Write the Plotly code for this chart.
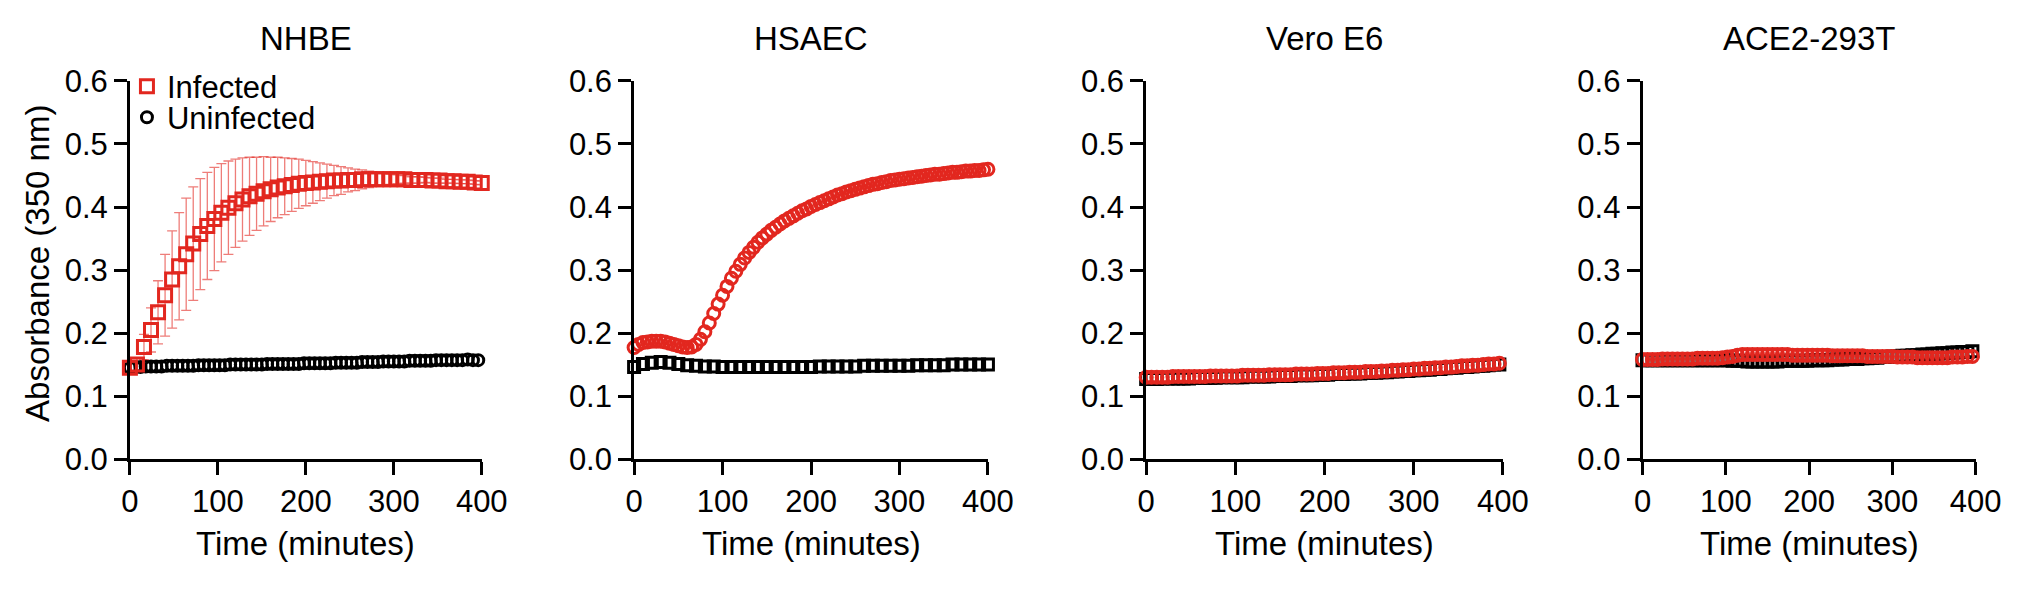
import plotly.graph_objects as go

# time grids (minutes) for each read series
t_nhbe_inf = list(range(0, 401, 8))
t_nhbe_un = list(range(0, 397, 6))
t_hsaec_inf = list(range(0, 401, 5))
t_hsaec_un = list(range(0, 401, 10))
t_vero = list(range(0, 397, 6))
t_ace2 = list(range(0, 397, 6))

panel_titles = ["NHBE", "HSAEC", "Vero E6", "ACE2-293T"]

nhbe_inf = [0.145, 0.150, 0.178, 0.205, 0.233, 0.260, 0.285, 0.306, 0.325, 0.342,
            0.357, 0.370, 0.381, 0.391, 0.399, 0.406, 0.412, 0.417, 0.421, 0.425,
            0.428, 0.431, 0.433, 0.435, 0.437, 0.438, 0.439, 0.440, 0.441, 0.442,
            0.442, 0.443, 0.443, 0.444, 0.444, 0.444, 0.444, 0.444, 0.444, 0.444,
            0.443, 0.443, 0.443, 0.442, 0.442, 0.441, 0.441, 0.440, 0.440, 0.439,
            0.438]
nhbe_inf_sd = [0.008, 0.010, 0.020, 0.035, 0.050, 0.065, 0.077, 0.085, 0.089, 0.090,
               0.088, 0.085, 0.082, 0.078, 0.074, 0.070, 0.066, 0.062, 0.058, 0.055,
               0.051, 0.048, 0.045, 0.042, 0.039, 0.036, 0.033, 0.030, 0.027, 0.024,
               0.022, 0.019, 0.017, 0.015, 0.013, 0.011, 0.010, 0.008, 0.007, 0.006,
               0.005, 0.005, 0.004, 0.004, 0.004, 0.003, 0.003, 0.003, 0.003, 0.003,
               0.003]
nhbe_un = [0.145, 0.146, 0.146, 0.147, 0.147, 0.147, 0.147, 0.148, 0.148, 0.148,
           0.148, 0.148, 0.148, 0.149, 0.149, 0.149, 0.149, 0.149, 0.149, 0.150,
           0.150, 0.150, 0.150, 0.150, 0.150, 0.150, 0.151, 0.151, 0.151, 0.151,
           0.151, 0.151, 0.151, 0.152, 0.152, 0.152, 0.152, 0.152, 0.152, 0.153,
           0.153, 0.153, 0.153, 0.153, 0.154, 0.154, 0.154, 0.154, 0.155, 0.155,
           0.155, 0.155, 0.155, 0.156, 0.156, 0.156, 0.156, 0.156, 0.157, 0.157,
           0.157, 0.157, 0.157, 0.157, 0.158, 0.157, 0.157]

hsaec_inf = [0.177, 0.182, 0.185, 0.186, 0.187, 0.187, 0.187, 0.186, 0.184, 0.182,
             0.180, 0.178, 0.177, 0.178, 0.182, 0.190, 0.202, 0.216, 0.231, 0.246,
             0.260, 0.274, 0.287, 0.298, 0.309, 0.319, 0.328, 0.336, 0.344, 0.351,
             0.357, 0.363, 0.368, 0.373, 0.378, 0.382, 0.386, 0.390, 0.394, 0.397,
             0.401, 0.404, 0.407, 0.410, 0.413, 0.416, 0.419, 0.421, 0.424, 0.426,
             0.428, 0.430, 0.432, 0.434, 0.436, 0.437, 0.439, 0.440, 0.442, 0.443,
             0.444, 0.445, 0.446, 0.447, 0.448, 0.449, 0.450, 0.451, 0.452, 0.452,
             0.453, 0.454, 0.455, 0.455, 0.456, 0.457, 0.457, 0.458, 0.458, 0.459,
             0.460]
hsaec_un = [0.146, 0.151, 0.153, 0.154, 0.153, 0.151, 0.149, 0.148, 0.147, 0.147,
            0.146, 0.146, 0.146, 0.146, 0.146, 0.146, 0.146, 0.146, 0.146, 0.146,
            0.146, 0.147, 0.147, 0.147, 0.147, 0.147, 0.148, 0.148, 0.148, 0.148,
            0.148, 0.148, 0.149, 0.149, 0.149, 0.149, 0.150, 0.150, 0.150, 0.150,
            0.150]

vero_inf = [0.130, 0.130, 0.130, 0.130, 0.130, 0.131, 0.131, 0.131, 0.131, 0.131,
            0.131, 0.131, 0.132, 0.132, 0.132, 0.132, 0.132, 0.132, 0.133, 0.133,
            0.133, 0.133, 0.133, 0.134, 0.134, 0.134, 0.134, 0.134, 0.135, 0.135,
            0.135, 0.135, 0.136, 0.136, 0.136, 0.137, 0.137, 0.137, 0.138, 0.138,
            0.138, 0.139, 0.139, 0.139, 0.140, 0.140, 0.141, 0.141, 0.142, 0.142,
            0.143, 0.143, 0.144, 0.144, 0.145, 0.145, 0.146, 0.146, 0.147, 0.148,
            0.148, 0.149, 0.149, 0.150, 0.151, 0.151, 0.152]
vero_un = [0.127, 0.127, 0.127, 0.128, 0.128, 0.128, 0.128, 0.128, 0.128, 0.129,
           0.129, 0.129, 0.129, 0.129, 0.130, 0.130, 0.130, 0.130, 0.130, 0.131,
           0.131, 0.131, 0.131, 0.131, 0.132, 0.132, 0.132, 0.132, 0.133, 0.133,
           0.133, 0.133, 0.134, 0.134, 0.134, 0.135, 0.135, 0.135, 0.136, 0.136,
           0.136, 0.137, 0.137, 0.137, 0.138, 0.138, 0.139, 0.139, 0.140, 0.140,
           0.141, 0.141, 0.142, 0.142, 0.143, 0.143, 0.144, 0.145, 0.145, 0.146,
           0.146, 0.147, 0.148, 0.148, 0.149, 0.150, 0.150]

ace2_inf = [0.158, 0.158, 0.158, 0.158, 0.159, 0.159, 0.159, 0.159, 0.159, 0.159,
            0.159, 0.160, 0.160, 0.160, 0.160, 0.160, 0.161, 0.162, 0.163, 0.165,
            0.166, 0.166, 0.166, 0.166, 0.166, 0.166, 0.166, 0.166, 0.166, 0.166,
            0.165, 0.165, 0.165, 0.165, 0.165, 0.165, 0.165, 0.165, 0.164, 0.164,
            0.164, 0.164, 0.164, 0.164, 0.164, 0.163, 0.163, 0.163, 0.163, 0.163,
            0.163, 0.162, 0.162, 0.162, 0.162, 0.161, 0.161, 0.161, 0.161, 0.161,
            0.161, 0.161, 0.162, 0.162, 0.162, 0.163, 0.163]
ace2_un = [0.157, 0.157, 0.157, 0.157, 0.157, 0.157, 0.157, 0.157, 0.157, 0.157,
           0.157, 0.157, 0.157, 0.157, 0.157, 0.157, 0.157, 0.157, 0.156, 0.156,
           0.156, 0.155, 0.155, 0.155, 0.155, 0.155, 0.155, 0.155, 0.156, 0.156,
           0.156, 0.156, 0.156, 0.156, 0.157, 0.157, 0.157, 0.157, 0.158, 0.158,
           0.158, 0.159, 0.159, 0.159, 0.160, 0.160, 0.161, 0.161, 0.162, 0.162,
           0.163, 0.163, 0.164, 0.164, 0.165, 0.165, 0.166, 0.166, 0.167, 0.167,
           0.168, 0.168, 0.169, 0.169, 0.170, 0.170, 0.171]

RED = "#E2271F"
RED_BAR = "rgba(226,39,31,0.6)"
FONT = "Liberation Sans, Arial, sans-serif"
W, H = 2042, 590

# panel pixel edges (left, right) and plot top/bottom
panel_px = [(123, 481), (636, 996), (1157, 1520), (1662, 2001)]
top_px, bot_px = 68, 470

fig = go.Figure()


def add(x, y, ax, symbol, color, size, name=None, legend=None, err=None):
    tr = go.Scatter(
        x=x, y=y, mode="markers", cliponaxis=False,
        xaxis="x" if ax == 1 else "x%d" % ax,
        yaxis="y" if ax == 1 else "y%d" % ax,
        marker=dict(symbol=symbol, size=size, color=color,
                    line=dict(color=color, width=3)),
        showlegend=name is not None, name=name,
    )
    if legend:
        tr.legend = legend
    if err is not None:
        tr.error_y = dict(type="data", array=err, color=RED_BAR,
                          thickness=1.3, width=5)
    fig.add_trace(tr)


# NHBE
add(t_nhbe_un, nhbe_un, 1, "circle-open", "black", 11, "Uninfected", "legend2")
add(t_nhbe_inf, nhbe_inf, 1, "square-open", RED, 13, "Infected", "legend", nhbe_inf_sd)
# HSAEC
add(t_hsaec_un, hsaec_un, 2, "square-open", "black", 11)
add(t_hsaec_inf, hsaec_inf, 2, "circle-open", RED, 12)
# Vero E6
add(t_vero, vero_un, 3, "square-open", "black", 11)
add(t_vero, vero_inf, 3, "circle-open", RED, 12)
# ACE2-293T
add(t_ace2, ace2_un, 4, "square-open", "black", 11)
add(t_ace2, ace2_inf, 4, "circle-open", RED, 12)

tickfont = dict(family=FONT, size=31, color="black")
axis_common = dict(showline=True, linecolor="black", linewidth=2.8,
                   ticks="outside", ticklen=13, tickwidth=2.8, tickcolor="black",
                   showgrid=False, zeroline=False, tickfont=tickfont)

ydom = [1 - bot_px / H, 1 - top_px / H]
annotations = []
for i, (l, r) in enumerate(panel_px):
    n = "" if i == 0 else str(i + 1)
    fig.layout["xaxis" + n] = dict(axis_common, domain=[l / W, r / W],
                                   range=[0, 400], tickvals=[0, 100, 200, 300, 400],
                                   anchor="y" + n)
    fig.layout["yaxis" + n] = dict(axis_common, domain=ydom, range=[0, 0.6],
                                   tickvals=[0, 0.1, 0.2, 0.3, 0.4, 0.5, 0.6],
                                   tickformat=".1f", anchor="x" + n)
    cx = (l + r) / 2 / W
    annotations.append(dict(text=panel_titles[i], x=cx, y=1 - 23 / H,
                            xref="paper", yref="paper", showarrow=False,
                            xanchor="center", yanchor="middle",
                            font=dict(family=FONT, size=33, color="black")))
    annotations.append(dict(text="Time (minutes)", x=cx, y=1 - 560 / H,
                            xref="paper", yref="paper", showarrow=False,
                            xanchor="center", yanchor="middle",
                            font=dict(family=FONT, size=33, color="black")))

annotations.append(dict(text="Absorbance (350 nm)", x=29 / W, y=1 - 262 / H,
                        xref="paper", yref="paper", showarrow=False, textangle=-90,
                        xanchor="center", yanchor="middle",
                        font=dict(family=FONT, size=33, color="black")))

legend_style = dict(bgcolor="rgba(0,0,0,0)", borderwidth=0, xanchor="left",
                    yanchor="middle", font=dict(family=FONT, size=31, color="black"))

fig.update_layout(
    width=W, height=H,
    margin=dict(l=0, r=0, t=0, b=0),
    paper_bgcolor="white", plot_bgcolor="white",
    annotations=annotations,
    legend=dict(legend_style, x=120 / W, y=1 - 74 / H),
    legend2=dict(legend_style, x=120 / W, y=1 - 107 / H),
)

# drop the default page margin so the figure sits at the window's top-left
fig.write_html("out.html", config={"displayModeBar": False},
               post_script="document.body.style.margin='0px';")
